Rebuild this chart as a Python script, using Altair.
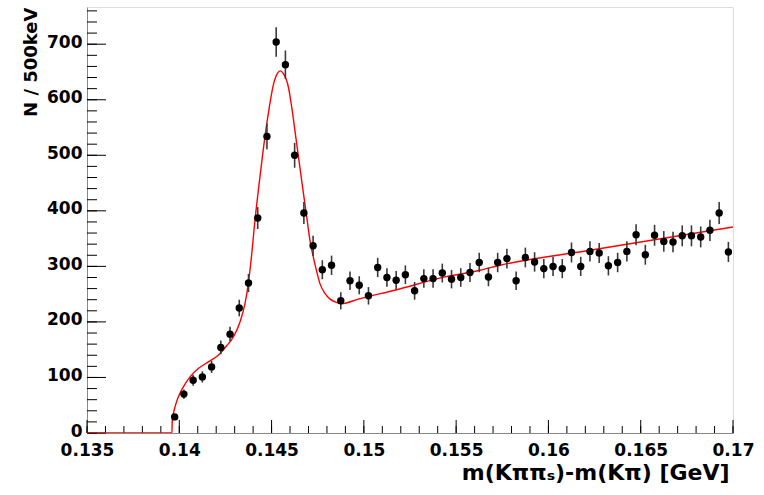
import altair as alt
import pandas as pd

# Histogram of the D* - D0 mass difference (500 keV bins)
bin_center = [
    0.13975, 0.14025, 0.14075, 0.14125, 0.14175, 0.14225, 0.14275, 0.14325, 0.14375, 0.14425,
    0.14475, 0.14525, 0.14575, 0.14625, 0.14675, 0.14725, 0.14775, 0.14825, 0.14875, 0.14925,
    0.14975, 0.15025, 0.15075, 0.15125, 0.15175, 0.15225, 0.15275, 0.15325, 0.15375, 0.15425,
    0.15475, 0.15525, 0.15575, 0.15625, 0.15675, 0.15725, 0.15775, 0.15825, 0.15875, 0.15925,
    0.15975, 0.16025, 0.16075, 0.16125, 0.16175, 0.16225, 0.16275, 0.16325, 0.16375, 0.16425,
    0.16475, 0.16525, 0.16575, 0.16625, 0.16675, 0.16725, 0.16775, 0.16825, 0.16875, 0.16925,
    0.16975,
]
counts = [
    29, 70, 95, 101, 119, 154, 178, 225, 270, 387,
    534, 704, 663, 500, 396, 337, 294, 302, 238, 274,
    266, 247, 298, 280, 275, 285, 256, 278, 278, 288,
    277, 280, 289, 307, 281, 307, 314, 274, 316, 308,
    296, 300, 296, 325, 300, 327, 324, 301, 307, 327,
    357, 321, 356, 345, 344, 355, 355, 353, 365, 396,
    326,
]

# Fitted signal + threshold background curve
fit_x = [
    0.135, 0.1396, 0.13962, 0.13977, 0.13995, 0.14022, 0.14058, 0.14103, 0.14157, 0.14211,
    0.14257, 0.14293, 0.14329, 0.14356, 0.14374, 0.14389, 0.14410, 0.14437, 0.14464, 0.14488,
    0.14509, 0.14531, 0.14546, 0.14564, 0.14591, 0.14609, 0.14636, 0.14663, 0.14690, 0.14708,
    0.14726, 0.14745, 0.14762, 0.14790, 0.14817, 0.14853, 0.14880, 0.14970, 0.15178, 0.15440,
    0.15629, 0.15738, 0.16225, 0.17000,
]
fit_y = [
    0, 0, 22, 47, 65, 83, 101, 116, 128, 140,
    157, 173, 200, 233, 269, 311, 383, 461, 533, 587,
    626, 647, 652, 647, 623, 587, 521, 455, 390, 347,
    317, 290, 269, 251, 241, 235, 233, 241, 258, 281,
    293, 302, 329, 371,
]

# Axis ticks
x_major = [0.135, 0.14, 0.145, 0.15, 0.155, 0.16, 0.165, 0.17]
x_minor = [round(0.135 + 0.001 * i, 3) for i in range(36)]
y_major = [0, 100, 200, 300, 400, 500, 600, 700]
y_minor = [20 * i for i in range(39)]

W, H = 646, 426
FONT = "DejaVu Sans"

hist = pd.DataFrame({"x": bin_center, "n": counts})
fit = pd.DataFrame({"x": fit_x, "y": fit_y})

xs = alt.Scale(domain=[0.135, 0.17], nice=False, zero=False)
ys = alt.Scale(domain=[0, 767], nice=False)

x_axis = alt.Axis(
    values=x_major, format="~g", title="m(Kππₛ)-m(Kπ) [GeV]",
    titleAnchor="end", titleAlign="right", titleX=642, titleFontSize=22, titlePadding=4,
    titleFont=FONT, titleFontWeight="bold", titleColor="black",
    labelFont=FONT, labelFontSize=17, labelFontWeight="bold", labelColor="black",
    labelPadding=9, labelFlush=False, labelOverlap=False, tickSize=0, grid=False,
)
y_axis = alt.Axis(
    values=y_major, format="d", title="N / 500keV",
    titleAnchor="end", titleFontSize=18, titlePadding=6,
    titleFont=FONT, titleFontWeight="bold", titleColor="black",
    labelFont=FONT, labelFontSize=17, labelFontWeight="bold", labelColor="black",
    labelPadding=5, labelOffset=-2, labelFlush=False, labelOverlap=False, tickSize=0, grid=False,
)

curve = alt.Chart(fit).mark_line(color="#ff0000", strokeWidth=1.4, interpolate="monotone", clip=True).encode(
    x=alt.X("x:Q", scale=xs, axis=x_axis),
    y=alt.Y("y:Q", scale=ys, axis=y_axis),
)

base = alt.Chart(hist).transform_calculate(
    lo="datum.n - sqrt(datum.n)", hi="datum.n + sqrt(datum.n)"
)
errs = base.mark_rule(color="#3a3a3a", strokeWidth=1.6).encode(
    x=alt.X("x:Q", scale=xs),
    y=alt.Y("lo:Q", scale=ys),
    y2="hi:Q",
)
pts = base.mark_circle(color="black", size=55, opacity=1).encode(
    x=alt.X("x:Q", scale=xs),
    y=alt.Y("n:Q", scale=ys),
)

# Inward-pointing ticks
def xticks(vals, length):
    return alt.Chart(pd.DataFrame({"t": vals})).mark_rule(color="black", strokeWidth=1).encode(
        x=alt.X("t:Q", scale=xs), y=alt.value(H), y2=alt.value(H - length)
    )

def yticks(vals, length):
    return alt.Chart(pd.DataFrame({"t": vals})).mark_rule(color="black", strokeWidth=1).encode(
        y=alt.Y("t:Q", scale=ys), x=alt.value(0), x2=alt.value(length)
    )

chart = alt.layer(
    xticks(x_minor, 7), xticks(x_major, 13),
    yticks(y_minor, 10), yticks(y_major, 19),
    curve, errs, pts,
).properties(
    width=W, height=H,
    autosize=alt.AutoSizeParams(type="none"),
    padding={"left": 87, "top": 7, "right": 31, "bottom": 62},
).configure_view(
    stroke="#555555", strokeWidth=1.2,
).configure_axis(
    domainColor="black", domainWidth=1.3,
).configure(background="white")

chart.save("out.html", embed_options={"renderer": "svg", "actions": False})
